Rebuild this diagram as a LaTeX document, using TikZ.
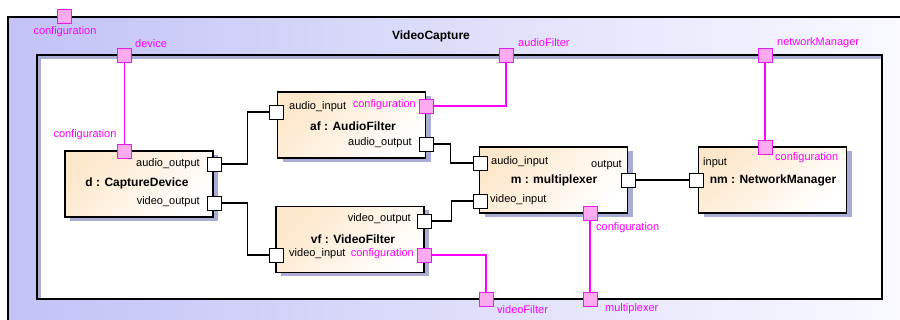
\documentclass[tikz,border=0pt]{standalone}
\usepackage{fontspec}
\setmainfont{Liberation Sans}
\usetikzlibrary{shadows}
\definecolor{peach}{HTML}{FDE7CA}
\definecolor{shad}{HTML}{A9ADD3}
\definecolor{lav}{HTML}{C2C2F6}
\definecolor{lavr}{HTML}{FAFAFF}
\definecolor{pinkf}{HTML}{FDAAF0}
\definecolor{pinkd}{HTML}{E81CE8}
\definecolor{mag}{HTML}{FF00FF}
\begin{document}
\begin{tikzpicture}[x=1pt,y=-1pt,
  comp/.style={draw=black, line width=1.1pt, left color=peach, right color=white, shading angle=45,
    general shadow={fill=shad, shadow xshift=5pt, shadow yshift=-4pt},
    minimum width=148pt, minimum height=66pt, inner sep=0},
  bport/.style={draw=black, fill=white, line width=0.9pt, minimum size=14pt, inner sep=0},
  pport/.style={draw=pinkd, fill=pinkf, line width=0.9pt, minimum size=14pt, inner sep=0},
  lbl/.style={font=\fontsize{11}{12}\selectfont, inner sep=0},
  mlbl/.style={lbl, text=mag},
  ttl/.style={font=\fontsize{12}{14}\selectfont\bfseries, inner sep=0},
  wire/.style={line width=1.3pt},
  mwire/.style={line width=1.3pt, draw=mag},
]
\useasboundingbox (0,0) rectangle (900,320);
\begin{scope}
\clip (0,0) rectangle (900,320);
% outer frame
\path[left color=lav, right color=lavr] (8,17) rectangle (915,330);
\draw[line width=1.1pt] (8,330) -- (8,17) -- (915,17);
% inner frame
\fill[shad] (37,55) rectangle (882,299);
\fill[white] (41,59) rectangle (882,299);
\draw[line width=1.1pt] (37,55) rectangle (882,299);

% components
\node[comp] (d) at (139,184) {};
\node[comp] (af) at (351.5,125) {};
\node[comp] (vf) at (350,239.5) {};
\node[comp] (m) at (553.5,180) {};
\node[comp] (nm) at (772.5,180) {};

% ports
\node[pport] (ocfg) at (64,16.5) {};
\node[pport] (dev) at (124.5,55) {};
\node[pport] (afp) at (506,55) {};
\node[pport] (nmp) at (765,55) {};
\node[pport] (vfp) at (486,299) {};
\node[pport] (mxp) at (590,299) {};
\node[pport] (dcfg) at (124.5,151) {};
\node[bport] (dao) at (214,164) {};
\node[bport] (dvo) at (214,203) {};
\node[bport] (afai) at (276,112) {};
\node[pport] (afcfg) at (426,106) {};
\node[bport] (afao) at (426,144) {};
\node[bport] (vfvo) at (424,221) {};
\node[bport] (vfvi) at (276,255) {};
\node[pport] (vfcfg) at (424,255) {};
\node[bport] (mai) at (480,163) {};
\node[bport] (mvi) at (480,201) {};
\node[bport] (mout) at (628,180) {};
\node[pport] (mcfg) at (590,213) {};
\node[bport] (nmin) at (696,180) {};
\node[pport] (nmcfg) at (765,147) {};

% connectors
\draw[wire] (dao.east) -- ([xshift=26pt]dao.east) |- (afai.west);
\draw[wire] (dvo.east) -- ([xshift=26pt]dvo.east) |- (vfvi.west);
\draw[wire] (afao.east) -- ([xshift=17pt]afao.east) |- (mai.west);
\draw[wire] (vfvo.east) -- ([xshift=20pt]vfvo.east) |- (mvi.west);
\draw[wire] (mout.east) -- (nmin.west);
\draw[mwire] (dev.south) -- (dcfg.north);
\draw[mwire] (afp.south) |- (afcfg.east);
\draw[mwire] (nmp.south) -- (nmcfg.north);
\draw[mwire] (vfcfg.east) -| (vfp.north);
\draw[mwire] (mcfg.south) -- (mxp.north);

% labels
\node[ttl] (vctitle) at (431,36) {VideoCapture};
\node[mlbl] (locfg) at (65,32) {configuration};
\node[mlbl, anchor=west] (ldev) at (135,44) {device};
\node[mlbl, anchor=west] (lafp) at (518,43) {audioFilter};
\node[mlbl, anchor=west] (lnmp) at (777,43) {networkManager};
\node[mlbl, anchor=west] (lvfp) at (497,310) {videoFilter};
\node[mlbl, anchor=west] (lmxp) at (605,309) {multiplexer};

\node[mlbl] (ldcfg) at (85,135) {configuration};
\node[lbl, anchor=east] (ldao) at (200,164) {audio\_output};
\node[lbl, anchor=east] (ldvo) at (200,202) {video\_output};
\node[ttl] (dt) at (137,183) {d : CaptureDevice};

\node[lbl, anchor=west] (lafai) at (289,107) {audio\_input};
\node[mlbl, anchor=east] (lafcfg) at (416,105) {configuration};
\node[ttl] (aft) at (353,126) {af : AudioFilter};
\node[lbl, anchor=east] (lafao) at (412,143) {audio\_output};

\node[lbl, anchor=east] (lvfvo) at (411,219) {video\_output};
\node[ttl] (vft) at (353,239) {vf : VideoFilter};
\node[lbl, anchor=west] (lvfvi) at (289,254) {video\_input};
\node[mlbl, anchor=east] (lvfcfg) at (414,254) {configuration};

\node[lbl, anchor=west] (lmai) at (491,162) {audio\_input};
\node[lbl, anchor=west] (lmvi) at (490,200) {video\_input};
\node[lbl, anchor=east] (lmout) at (622,165) {output};
\node[ttl] (mt) at (554,180) {m : multiplexer};
\node[mlbl, anchor=west] (lmcfg) at (596,228) {configuration};

\node[lbl, anchor=west] (lnmin) at (703,163) {input};
\node[mlbl, anchor=west] (lnmcfg) at (775,158) {configuration};
\node[ttl] (nmt) at (773,180) {nm : NetworkManager};
\end{scope}
\end{tikzpicture}
\end{document}
